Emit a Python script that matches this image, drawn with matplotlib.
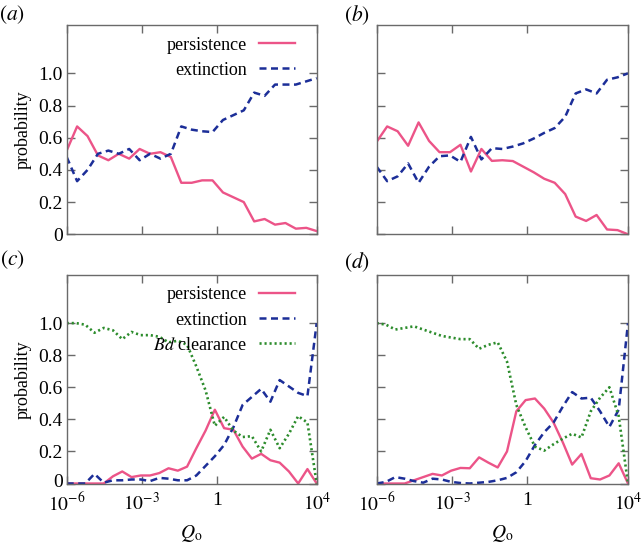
import numpy as np
import matplotlib
matplotlib.use("Agg")
import matplotlib.pyplot as plt
import matplotlib.transforms as mtransforms

plt.rcParams['font.family'] = ['Liberation Serif', 'DejaVu Serif']
plt.rcParams['mathtext.fontset'] = 'stix'

# ---- data ----
q_ab = np.logspace(-6, 4, 25)
q_cd = np.logspace(-6, 4, 28)

a_persistence = [0.52, 0.67, 0.61, 0.49, 0.46, 0.50, 0.47, 0.53, 0.50, 0.51, 0.48, 0.32, 0.32,
                 0.335, 0.335, 0.26, 0.23, 0.20, 0.08, 0.095, 0.06, 0.07, 0.035, 0.04, 0.02]
a_extinction = [0.48, 0.33, 0.40, 0.50, 0.52, 0.50, 0.53, 0.46, 0.50, 0.47, 0.50, 0.67, 0.65,
                0.64, 0.635, 0.71, 0.74, 0.77, 0.88, 0.86, 0.93, 0.93, 0.93, 0.95, 0.97]

b_persistence = [0.575, 0.67, 0.64, 0.55, 0.695, 0.58, 0.51, 0.51, 0.556, 0.39, 0.53, 0.456, 0.46,
                 0.455, 0.42, 0.385, 0.345, 0.32, 0.25, 0.11, 0.083, 0.12, 0.03, 0.026, 0.0]
b_extinction = [0.42, 0.33, 0.36, 0.44, 0.32, 0.42, 0.485, 0.49, 0.45, 0.605, 0.465, 0.535, 0.53,
                0.545, 0.565, 0.595, 0.63, 0.66, 0.73, 0.875, 0.90, 0.875, 0.96, 0.975, 1.0]

c_persistence = [0.0, 0.0, 0.0, 0.0, 0.0, 0.045, 0.075, 0.04, 0.05, 0.05, 0.065, 0.095, 0.08, 0.105,
                 0.22, 0.33, 0.46, 0.345, 0.335, 0.23, 0.155, 0.185, 0.145, 0.13, 0.075, 0.0, 0.09, 0.0]
c_extinction = [0.0, 0.0, 0.0, 0.06, 0.005, 0.02, 0.02, 0.025, 0.025, 0.015, 0.035, 0.03, 0.02, 0.02,
                0.05, 0.11, 0.17, 0.24, 0.35, 0.49, 0.54, 0.59, 0.51, 0.645, 0.605, 0.565, 0.545, 1.0]
c_clearance = [1.0, 1.0, 0.99, 0.94, 0.97, 0.955, 0.90, 0.945, 0.925, 0.925, 0.915, 0.88, 0.89, 0.865,
               0.73, 0.58, 0.36, 0.415, 0.33, 0.29, 0.295, 0.20, 0.335, 0.22, 0.31, 0.42, 0.38, 0.0]

d_persistence = [0.0, 0.0, 0.0, 0.0, 0.02, 0.04, 0.06, 0.05, 0.08, 0.097, 0.095, 0.163, 0.13, 0.10,
                 0.20, 0.45, 0.52, 0.53, 0.467, 0.38, 0.256, 0.118, 0.184, 0.033, 0.025, 0.05, 0.126, 0.0]
d_extinction = [0.0, 0.01, 0.04, 0.03, 0.015, 0.005, 0.03, 0.025, 0.01, 0.003, 0.0, 0.005, 0.01, 0.02,
                0.035, 0.07, 0.14, 0.24, 0.32, 0.38, 0.48, 0.57, 0.53, 0.535, 0.45, 0.353, 0.46, 1.0]
d_clearance = [1.0, 0.99, 0.96, 0.97, 0.98, 0.96, 0.94, 0.92, 0.91, 0.90, 0.90, 0.84, 0.865, 0.88,
               0.76, 0.49, 0.35, 0.23, 0.205, 0.245, 0.28, 0.31, 0.287, 0.45, 0.535, 0.60, 0.42, 0.0]

x_ticks = [1e-6, 1e-3, 1, 1e4]
x_tick_labels = [r'$10^{-6}$', r'$10^{-3}$', '1', r'$10^{4}$']
y_ticks = [0, 0.2, 0.4, 0.6, 0.8, 1.0]
y_tick_labels = ['0', '0.2', '0.4', '0.6', '0.8', '1.0']
panel_labels = [r'$(a)$', r'$(b)$', r'$(c)$', r'$(d)$']
series_names = ['persistence', 'extinction', r'$Bd$ clearance']

# ---- style ----
C_PERS = '#EC5488'
C_EXT = '#1C2E98'
C_CLR = '#2C8C2C'
SPINE = '#6a6a6a'
W, H = 641, 546
FS_TICK = 14
FS_LEG = 13
FS_LAB = 13

fig = plt.figure(figsize=(W / 100, H / 100), dpi=100)

def add_axes(x0, y0, x1, y1):
    return fig.add_axes([x0 / W, 1 - y1 / H, (x1 - x0) / W, (y1 - y0) / H])

boxes = [(66.7, 25, 316.7, 234.3), (376.7, 25, 628, 234.3),
         (66.7, 275, 316.7, 483.5), (376.7, 275, 628, 483.5)]
axes = [add_axes(*b) for b in boxes]

panels = [
    (q_ab, a_persistence, a_extinction, None),
    (q_ab, b_persistence, b_extinction, None),
    (q_cd, c_persistence, c_extinction, c_clearance),
    (q_cd, d_persistence, d_extinction, d_clearance),
]

for i, (ax, (q, pers, ext, clr)) in enumerate(zip(axes, panels)):
    ax.plot(q, pers, color=C_PERS, lw=1.7, label=series_names[0])
    ax.plot(q, ext, color=C_EXT, lw=1.8, linestyle=(0, (2.8, 1.8)), label=series_names[1])
    if clr is not None:
        ax.plot(q, clr, color=C_CLR, lw=1.9, linestyle=(0, (0.8, 1.1)), label=series_names[2])
    ax.set_xscale('log')
    ax.set_xlim(1e-6, 1e4)
    ax.set_ylim(0, 1.3)
    ax.set_xticks(x_ticks)
    ax.minorticks_off()
    ax.set_yticks(y_ticks)
    for s in ax.spines.values():
        s.set_color(SPINE)
        s.set_linewidth(1.0)
    ax.tick_params(direction='in', length=6, width=1.0, color=SPINE, top=True, right=True,
                   labelsize=FS_TICK)
    ax.tick_params(axis='y', pad=3)
    ax.tick_params(axis='x', pad=6)
    if i in (0, 2):
        ax.set_yticklabels(y_tick_labels)
        ax.set_ylabel('probability', fontsize=FS_LAB, labelpad=5)
    else:
        ax.set_yticklabels([])
    if i in (2, 3):
        ax.set_xticklabels(x_tick_labels)
        ax.set_xlabel(r'$Q_\mathrm{o}$', fontsize=FS_LAB + 1, labelpad=6)
    else:
        ax.set_xticklabels([])
    if i in (0, 2):
        ax.legend(loc='upper right', bbox_to_anchor=(0.915, 0.945), frameon=False,
                  markerfirst=False, fontsize=FS_LEG, borderpad=0, borderaxespad=0,
                  handlelength=2.0, handletextpad=0.7, labelspacing=0.45)

# nudge the "0" label of panel (c) up slightly so it clears the 10^-6 label
zero_lbl = axes[2].get_yticklabels()[0]
zero_lbl.set_transform(zero_lbl.get_transform() +
                       mtransforms.ScaledTranslation(0, 2.5 / 72, fig.dpi_scale_trans))

label_pos = [(12, 15), (357, 15), (12, 260), (357, 262)]
for (x, y), lab in zip(label_pos, panel_labels):
    fig.text(x / W, 1 - y / H, lab, fontsize=15.5, ha='center', va='center')

fig.savefig('out.png', dpi=100)
